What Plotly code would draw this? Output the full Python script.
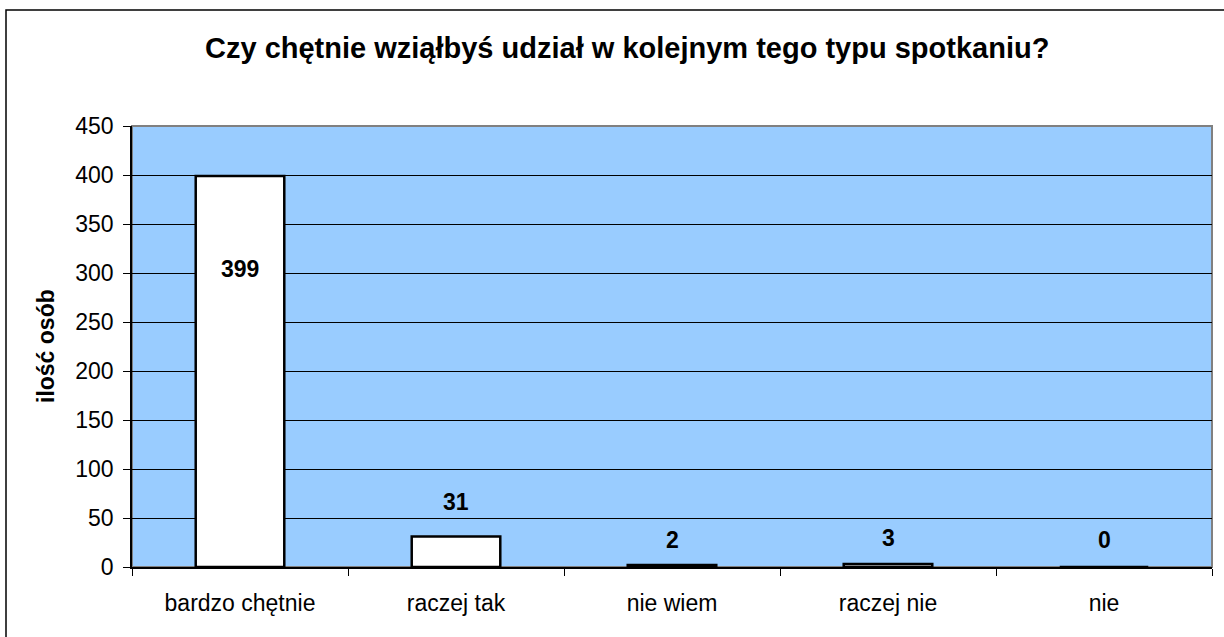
import plotly.graph_objects as go

categories = ["bardzo chętnie", "raczej tak", "nie wiem", "raczej nie", "nie"]
values = [399, 31, 2, 3, 0]
label_shift_px = [-93, 35, 25, 26, 27]
y_ticks = [0, 50, 100, 150, 200, 250, 300, 350, 400, 450]

title_text = "Czy chętnie wziąłbyś udział w kolejnym tego typu spotkaniu?"
y_title = "ilość osób"

FONT = "Liberation Sans, Arial, sans-serif"

fig = go.Figure()
fig.add_trace(go.Bar(
    x=categories, y=values,
    marker=dict(color="white", line=dict(color="black", width=2.5)),
    showlegend=False, hoverinfo="x+y",
))

for c, v, s in zip(categories, values, label_shift_px):
    fig.add_annotation(
        x=c, y=v, text=f"<b>{v}</b>", showarrow=False,
        yshift=s, yanchor="middle",
        font=dict(family=FONT, size=23, color="black"),
    )

W, H = 1224, 637
L, R, T, B = 132, 12, 126, 70
pw, ph = W - L - R, H - T - B

def px_to_paper_x(px):
    return (px - L) / pw

def py_to_paper_y(py):
    return (H - B - py) / ph

# title
fig.add_annotation(
    x=px_to_paper_x(627), y=py_to_paper_y(48), xref="paper", yref="paper",
    text=f"<b>{title_text}</b>", showarrow=False, xanchor="center", yanchor="middle",
    font=dict(family=FONT, size=29, color="black"),
)
# y-axis title
fig.add_annotation(
    x=px_to_paper_x(46), y=py_to_paper_y(346), xref="paper", yref="paper",
    text=f"<b>{y_title}</b>", showarrow=False, textangle=-90,
    xanchor="center", yanchor="middle",
    font=dict(family=FONT, size=23, color="black"),
)

# outer chart border (right/bottom fall outside the visible area)
fig.add_shape(type="rect", xref="paper", yref="paper",
              x0=px_to_paper_x(6), x1=px_to_paper_x(1240),
              y0=py_to_paper_y(660), y1=py_to_paper_y(10),
              line=dict(color="black", width=1.5), fillcolor="rgba(0,0,0,0)", layer="above")
# plot area gray border
fig.add_shape(type="rect", xref="paper", yref="paper",
              x0=0, x1=1, y0=0, y1=1,
              line=dict(color="#808080", width=2), fillcolor="rgba(0,0,0,0)", layer="below")

fig.update_layout(
    width=W, height=H,
    margin=dict(l=L, r=R, t=T, b=B),
    paper_bgcolor="white",
    plot_bgcolor="#99CCFF",
    bargap=0.59,
    font=dict(family=FONT, size=23, color="black"),
)
fig.update_xaxes(
    showline=True, linecolor="black", linewidth=1.5,
    ticks="outside", tickson="boundaries", ticklen=7, tickcolor="black", tickwidth=1,
    showgrid=False, ticklabelstandoff=15,
    tickfont=dict(family=FONT, size=23, color="black"),
)
fig.update_yaxes(
    range=[0, 450], tickvals=y_ticks,
    showline=True, linecolor="black", linewidth=1.5,
    ticks="outside", ticklen=7, tickcolor="black", tickwidth=1,
    showgrid=True, gridcolor="black", gridwidth=1,
    zeroline=False, ticklabelstandoff=5,
    tickfont=dict(family=FONT, size=23, color="black"),
)

fig.write_html(
    "out.html",
    config={"displayModeBar": False},
    post_script="document.body.style.margin='0';document.body.style.padding='0';document.body.style.overflow='hidden';",
)
